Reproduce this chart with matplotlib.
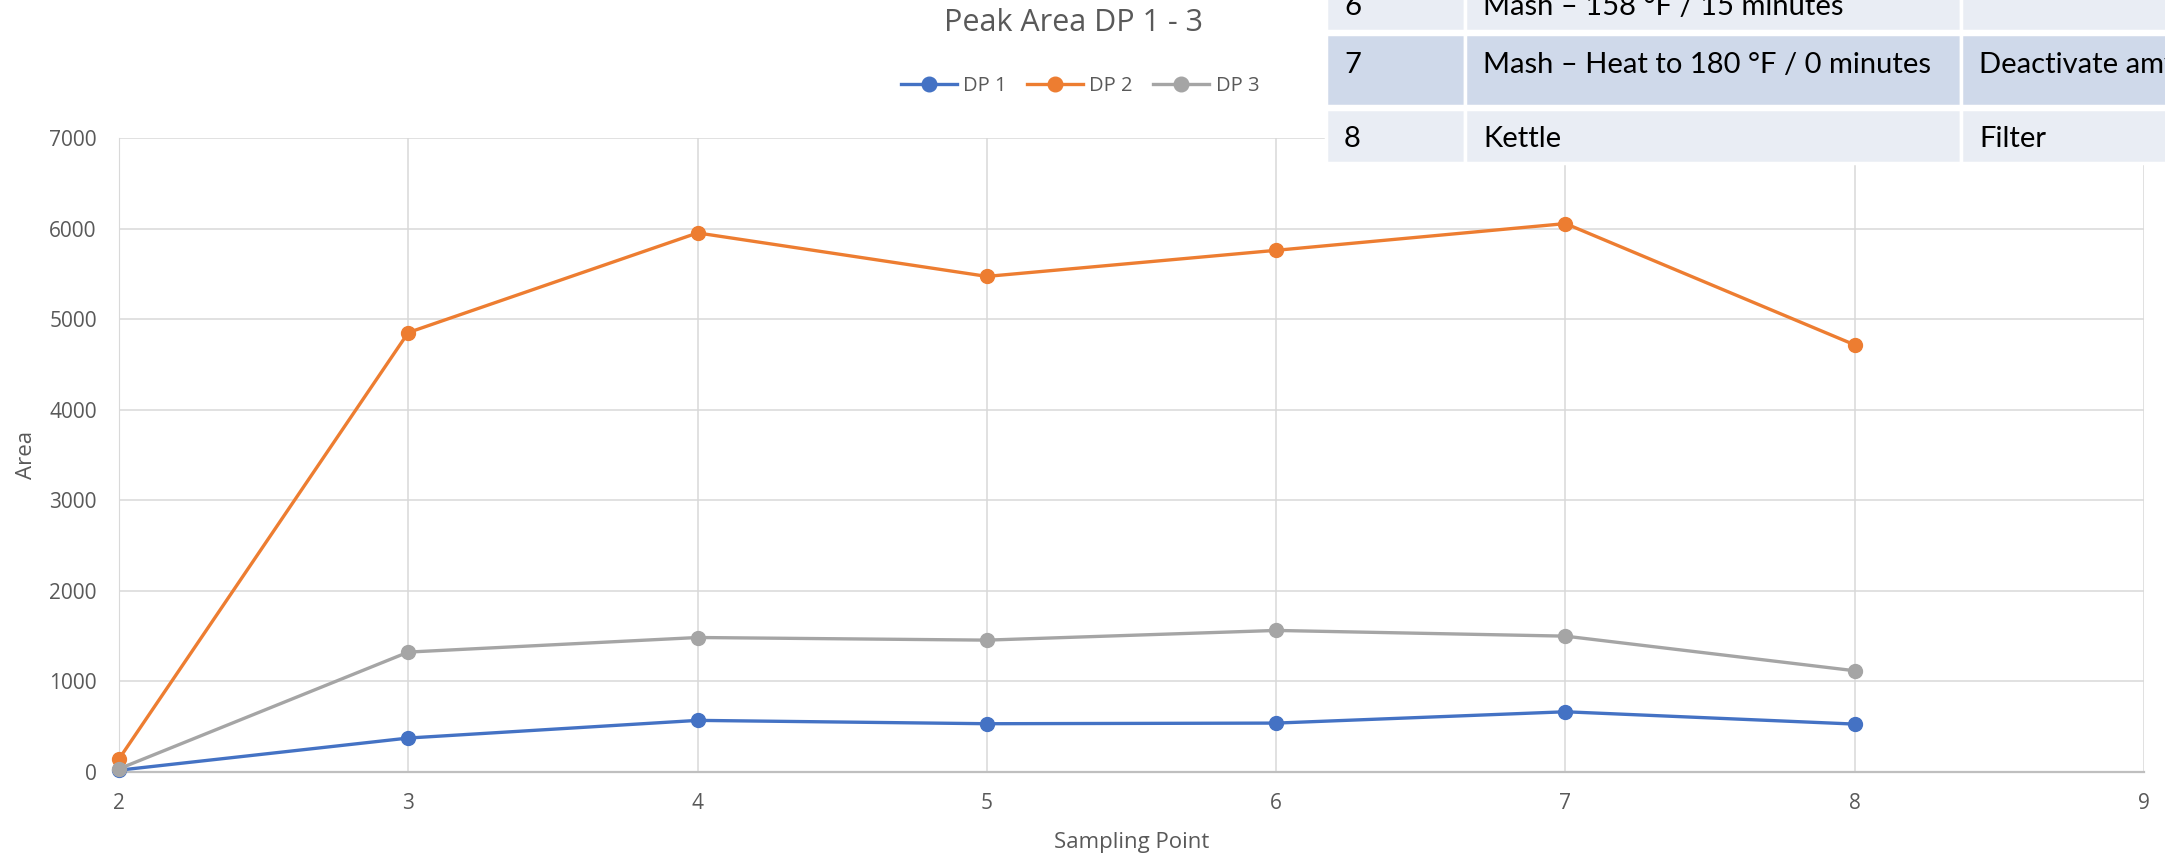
import matplotlib.pyplot as plt
from matplotlib.patches import Rectangle

# peak areas at each sampling point
sampling_points = [2, 3, 4, 5, 6, 7, 8]
dp1 = [20, 375, 570, 533, 540, 665, 529]
dp2 = [144, 4852, 5952, 5472, 5760, 6055, 4716]
dp3 = [35, 1324, 1485, 1456, 1563, 1500, 1118]

# brewing steps table shown in the corner
step_numbers = ["6", "7", "8"]
step_names = ["Mash – 158 °F / 15 minutes", "Mash – Heat to 180 °F / 0 minutes", "Kettle"]
step_purposes = ["", "Deactivate amylase", "Filter"]

W, H = 2165, 859
fig = plt.figure(figsize=(W / 100, H / 100), dpi=100)
ax = fig.add_axes([119 / W, (H - 772) / H, (2144 - 119) / W, (772 - 138) / H])

txt = '#595959'
font = 'Open Sans'
series = [(dp1, '#4472C4', 'DP 1'), (dp2, '#ED7D31', 'DP 2'), (dp3, '#A5A5A5', 'DP 3')]
for vals, col, lab in series:
    ax.plot(sampling_points, vals, color=col, lw=2.4, marker='o', ms=10,
            label=lab, clip_on=False, zorder=3)

ax.set_xlim(2, 9)
ax.set_ylim(0, 7000)
ax.set_xticks(range(2, 10))
ax.set_yticks(range(0, 7001, 1000))
ax.grid(True, color='#D9D9D9', lw=1.1)
ax.set_axisbelow(True)
for s in ['top', 'right']:
    ax.spines[s].set_visible(False)
ax.spines['left'].set_color('#D9D9D9')
ax.spines['bottom'].set_color('#BFBFBF')
ax.spines['bottom'].set_linewidth(1.6)
ax.tick_params(length=0, labelsize=15, labelcolor=txt)
ax.tick_params(axis='y', pad=16)
ax.tick_params(axis='x', pad=15)
for t in ax.get_xticklabels() + ax.get_yticklabels():
    t.set_fontfamily(font)

ax.set_xlabel('Sampling Point', fontsize=16, color=txt, family=font, labelpad=13)
ax.set_ylabel('Area', fontsize=16, color=txt, family=font)
ax.yaxis.set_label_coords(-0.0405, 0.5)

fig.text(1074 / W, 1 - 23 / H, 'Peak Area DP 1 - 3', ha='center', va='center',
         fontsize=22, color=txt, family=font)
fig.legend(loc='center', bbox_to_anchor=(1080 / W, 1 - 86 / H), ncol=3, frameon=False,
           prop={'family': font, 'size': 14.5}, labelcolor=txt, handlelength=2.8,
           handletextpad=0.3, columnspacing=1.0, markerscale=1.05)

# overlay table drawn in pixel coordinates
ov = fig.add_axes([0, 0, 1, 1], zorder=10)
ov.set_xlim(0, W)
ov.set_ylim(H, 0)
ov.axis('off')
ov.patch.set_visible(False)

col_edges = [1326, 1465, 1961, 2300]
row_edges = [(-40, 31), (34, 106), (109, 163)]
row_colors = ['#E9EDF4', '#CFD9EA', '#E9EDF4']
baselines = [15, 73, 147]
for i, (top, bot) in enumerate(row_edges):
    for j in range(3):
        x0, x1 = col_edges[j], col_edges[j + 1]
        ov.add_patch(Rectangle((x0, top), x1 - x0, bot - top, facecolor=row_colors[i],
                               edgecolor='white', lw=2.5))
    cells = [step_numbers[i], step_names[i], step_purposes[i]]
    for j, s in enumerate(cells):
        ov.text(col_edges[j] + 18, baselines[i], s, ha='left', va='baseline',
                fontsize=21, family='Lato', color='black')

fig.savefig('out.png', dpi=100)
